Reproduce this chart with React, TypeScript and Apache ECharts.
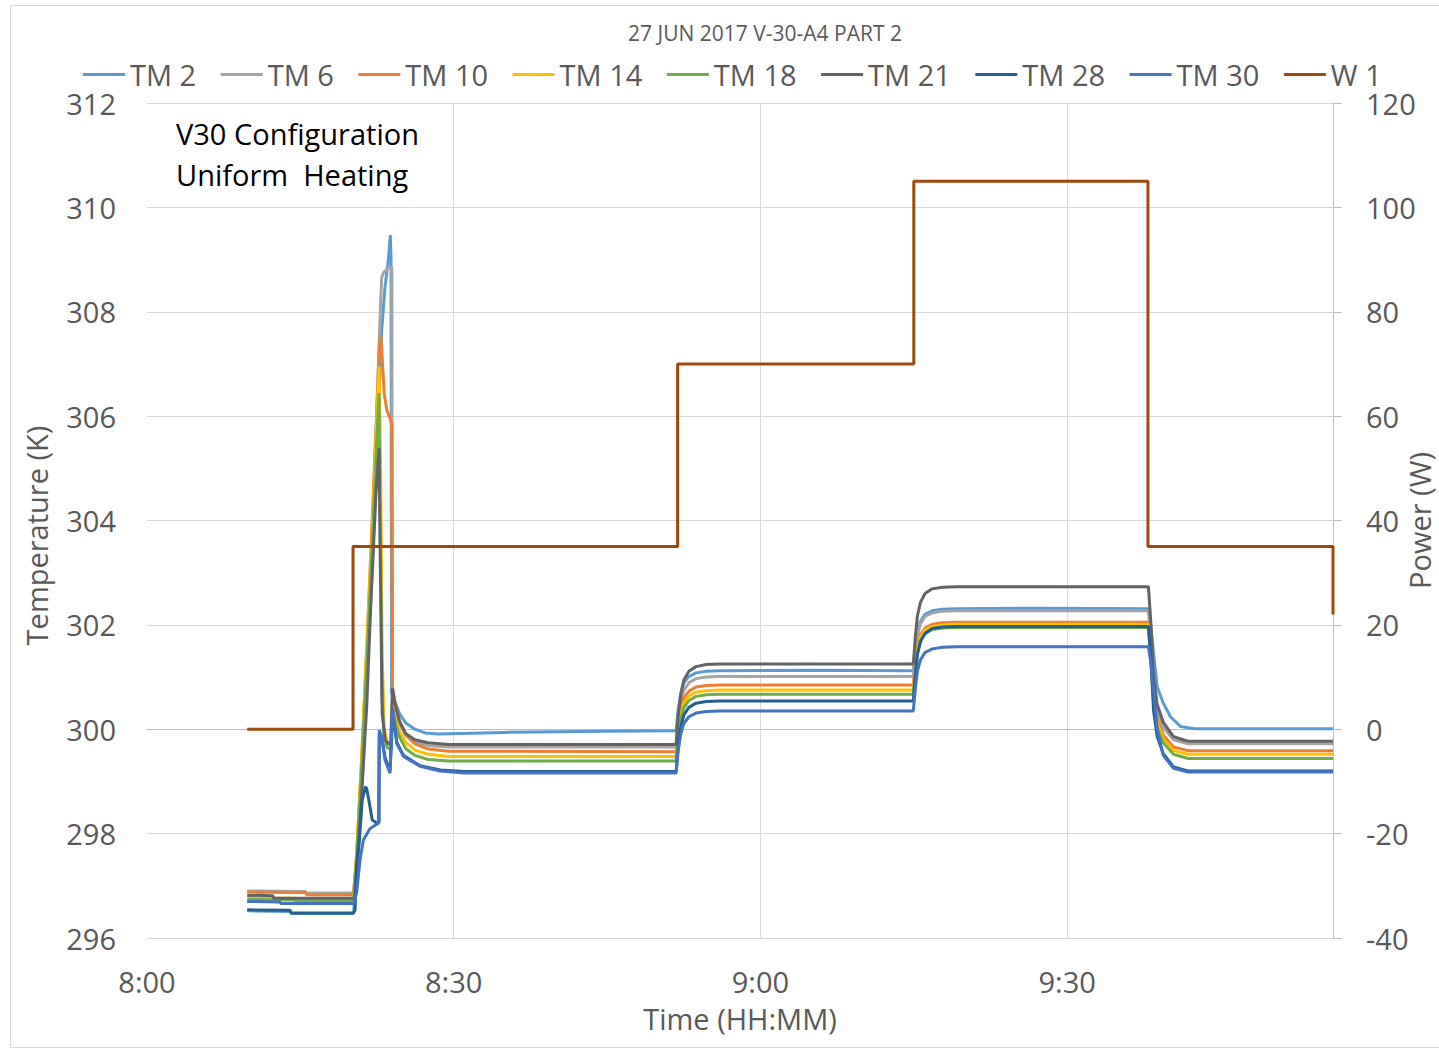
import { useEffect, useRef } from "react";
import * as echarts from "echarts";

const FONT = '"Open Sans", "Liberation Sans", sans-serif';
const TEXT = "#595959";

const chartTitle = "27 JUN 2017 V-30-A4 PART 2";
const seriesNames = ["TM 2", "TM 6", "TM 10", "TM 14", "TM 18", "TM 21", "TM 28", "TM 30", "W 1"];
const seriesColors = ["#5B9BD5", "#A5A5A5", "#ED7D31", "#FFC000", "#70AD47", "#636363", "#255E91", "#4472C4", "#9E480E"];

// time in minutes after 8:00, temperature in K
const tm2: [number, number][] = [
  [9.8, 296.52], [14.0, 296.51], [14.1, 296.47], [20.2, 296.47], [20.5, 297.2], [21.0, 298.9], [21.5, 300.9], [22.0, 303.0],
  [22.4, 304.9], [22.7, 306.4], [22.96, 307.65], [23.28, 308.48], [23.6, 308.99], [23.8, 309.47], [23.87, 309.0], [23.92, 300.72],
  [24.3, 300.5], [24.7, 300.3], [25.3, 300.12], [26.2, 300.0], [27.2, 299.93], [28.5, 299.91], [35, 299.94], [45, 299.96], [51.75, 299.97],
  [51.95, 300.37], [52.2, 300.68], [52.5, 300.89], [53.0, 301.01], [53.7, 301.08], [54.7, 301.11], [56.0, 301.12], [65, 301.13], [74.95, 301.12],
  [75.15, 301.54], [75.35, 301.86], [75.65, 302.07], [76.1, 302.2], [76.8, 302.27], [77.8, 302.3], [79.2, 302.31], [88, 302.32], [97.95, 302.31],
  [98.2, 301.95], [98.45, 301.45], [98.8, 300.82], [99.4, 300.5], [100.1, 300.24], [101.1, 300.05], [102.5, 300.01], [116, 300.01],
];
const tm6: [number, number][] = [
  [9.8, 296.9], [15.5, 296.89], [15.6, 296.86], [20.2, 296.86], [20.5, 297.5], [21.0, 299.2], [21.5, 301.3], [22.0, 303.6],
  [22.4, 305.6], [22.7, 307.4], [22.95, 308.65], [23.1, 308.74], [23.7, 308.86], [23.95, 308.85], [24.0, 300.7],
  [24.3, 300.35], [24.7, 300.1], [25.3, 299.88], [26.2, 299.75], [27.5, 299.69], [29.5, 299.66], [51.75, 299.66],
  [51.95, 300.13], [52.2, 300.5], [52.5, 300.74], [53.0, 300.89], [53.7, 300.97], [54.7, 301.0], [56.0, 301.01], [74.95, 301.01],
  [75.15, 301.45], [75.35, 301.79], [75.65, 302.02], [76.1, 302.16], [76.8, 302.23], [77.8, 302.26], [79.2, 302.27], [97.95, 302.27],
  [98.2, 301.63], [98.45, 300.79], [98.8, 300.33], [99.4, 300.03], [100.4, 299.8], [101.8, 299.72], [116, 299.72],
];
const tm10: [number, number][] = [
  [9.8, 296.88], [15.5, 296.87], [15.6, 296.83], [20.2, 296.83], [20.5, 297.6], [21.0, 299.4], [21.5, 301.6], [22.0, 303.9],
  [22.4, 305.8], [22.7, 307.2], [22.85, 307.55], [22.95, 307.3], [23.2, 306.44], [23.45, 306.12], [23.77, 305.96], [23.95, 305.85], [24.0, 300.82],
  [24.3, 300.45], [24.7, 300.15], [25.3, 299.9], [26.2, 299.72], [27.5, 299.62], [29.5, 299.58], [51.75, 299.57],
  [51.95, 300.02], [52.2, 300.36], [52.5, 300.59], [53.0, 300.73], [53.7, 300.81], [54.7, 300.84], [56.0, 300.85], [74.95, 300.85],
  [75.15, 301.27], [75.35, 301.59], [75.65, 301.81], [76.1, 301.94], [76.8, 302.01], [77.8, 302.04], [79.2, 302.05], [97.95, 302.05],
  [98.2, 301.44], [98.45, 300.62], [98.8, 300.18], [99.4, 299.89], [100.4, 299.66], [101.8, 299.59], [116, 299.59],
];
const tm14: [number, number][] = [
  [9.8, 296.77], [14.5, 296.76], [14.6, 296.72], [20.2, 296.72], [20.5, 297.6], [21.0, 299.5], [21.5, 301.6], [22.0, 303.7],
  [22.4, 305.6], [22.7, 306.95], [22.85, 305.0], [23.0, 301.5], [23.2, 300.0], [23.5, 299.75], [23.85, 299.72], [24.0, 300.5],
  [24.3, 300.2], [24.7, 299.95], [25.3, 299.75], [26.2, 299.6], [27.5, 299.52], [29.5, 299.48], [51.75, 299.48],
  [51.95, 299.92], [52.2, 300.27], [52.5, 300.5], [53.0, 300.64], [53.7, 300.71], [54.7, 300.74], [56.0, 300.75], [74.95, 300.75],
  [75.15, 301.19], [75.35, 301.53], [75.65, 301.76], [76.1, 301.9], [76.8, 301.97], [77.8, 302.0], [79.2, 302.01], [97.95, 302.01],
  [98.2, 301.39], [98.45, 300.57], [98.8, 300.12], [99.4, 299.82], [100.4, 299.59], [101.8, 299.52], [116, 299.52],
];
const tm18: [number, number][] = [
  [9.8, 296.74], [14.5, 296.73], [14.6, 296.71], [20.2, 296.71], [20.5, 297.5], [21.0, 299.3], [21.5, 301.3], [22.0, 303.4],
  [22.4, 305.2], [22.7, 306.44], [22.8, 304.0], [23.0, 300.6], [23.2, 299.85], [23.5, 299.65], [23.85, 299.62], [24.0, 300.4],
  [24.3, 300.1], [24.7, 299.85], [25.3, 299.63], [26.2, 299.5], [27.5, 299.42], [29.5, 299.39], [51.75, 299.39],
  [51.95, 299.84], [52.2, 300.18], [52.5, 300.41], [53.0, 300.55], [53.7, 300.63], [54.7, 300.66], [56.0, 300.67], [74.95, 300.67],
  [75.15, 301.12], [75.35, 301.46], [75.65, 301.69], [76.1, 301.83], [76.8, 301.91], [77.8, 301.94], [79.2, 301.95], [97.95, 301.95],
  [98.2, 301.32], [98.45, 300.49], [98.8, 300.04], [99.4, 299.74], [100.4, 299.52], [101.8, 299.44], [116, 299.44],
];
const tm21: [number, number][] = [
  [9.8, 296.82], [12.3, 296.81], [12.4, 296.76], [20.2, 296.76], [20.35, 296.8], [21.0, 298.75], [21.5, 300.47], [21.82, 302.07],
  [22.38, 304.46], [22.7, 305.39], [22.8, 303.5], [23.0, 300.3], [23.3, 299.8], [23.6, 299.72], [23.85, 299.75], [24.0, 300.79],
  [24.3, 300.45], [24.7, 300.15], [25.3, 299.92], [26.2, 299.8], [27.5, 299.74], [29.5, 299.71], [51.75, 299.71],
  [51.95, 300.25], [52.2, 300.66], [52.5, 300.94], [53.0, 301.11], [53.7, 301.2], [54.7, 301.24], [56.0, 301.25], [74.95, 301.25],
  [75.15, 301.77], [75.35, 302.17], [75.65, 302.43], [76.1, 302.6], [76.8, 302.69], [77.8, 302.72], [79.2, 302.73], [97.95, 302.73],
  [98.2, 301.99], [98.45, 301.01], [98.8, 300.48], [99.4, 300.13], [100.4, 299.86], [101.8, 299.77], [116, 299.77],
];
const tm28: [number, number][] = [
  [9.8, 296.54], [14.0, 296.53], [14.1, 296.48], [20.2, 296.48], [20.35, 296.54], [20.5, 297.4], [20.75, 297.81], [21.05, 298.64],
  [21.37, 298.9], [21.5, 298.85], [21.7, 298.64], [22.03, 298.26], [22.5, 298.2], [22.7, 298.22], [22.72, 299.9], [23.0, 299.8],
  [23.3, 299.45], [23.77, 299.2], [24.04, 300.3], [24.43, 299.75], [25.08, 299.5], [26.7, 299.3], [28.7, 299.22], [31, 299.19], [51.75, 299.19],
  [51.95, 299.66], [52.2, 300.03], [52.5, 300.27], [53.0, 300.42], [53.7, 300.5], [54.7, 300.53], [56.0, 300.54], [74.95, 300.54],
  [75.15, 301.04], [75.35, 301.43], [75.65, 301.68], [76.1, 301.84], [76.8, 301.93], [77.8, 301.96], [79.2, 301.97], [97.95, 301.97],
  [98.2, 301.28], [98.45, 300.36], [98.8, 299.86], [99.4, 299.53], [100.4, 299.28], [101.8, 299.2], [116, 299.2],
];
const tm30: [number, number][] = [
  [9.8, 296.7], [13.0, 296.69], [13.1, 296.66], [20.2, 296.66], [20.5, 296.86], [20.84, 297.5], [21.16, 297.88], [21.82, 298.1],
  [22.63, 298.2], [22.72, 299.98], [22.96, 299.85], [23.28, 299.41], [23.77, 299.16], [23.94, 300.05], [24.04, 300.37], [24.43, 299.73],
  [25.08, 299.48], [26.71, 299.29], [28.66, 299.2], [31, 299.16], [51.75, 299.16],
  [51.95, 299.58], [52.2, 299.9], [52.5, 300.11], [53.0, 300.24], [53.7, 300.31], [54.7, 300.34], [56.0, 300.35], [74.95, 300.35],
  [75.15, 300.78], [75.35, 301.11], [75.65, 301.33], [76.1, 301.47], [76.8, 301.54], [77.8, 301.57], [79.2, 301.58], [97.95, 301.58],
  [98.2, 301.25], [98.45, 300.75], [98.8, 300.0], [99.4, 299.5], [100.4, 299.25], [101.8, 299.18], [116, 299.18],
];
// power in W
const w1: [number, number][] = [
  [9.8, 0], [20.15, 0], [20.15, 35], [51.9, 35], [51.9, 70], [75.0, 70], [75.0, 105], [97.9, 105], [97.9, 35], [116, 35], [116, 22],
];

const temperatureSeries = [tm2, tm6, tm10, tm14, tm18, tm21, tm28, tm30];

function formatTime(v: number): string {
  const h = 8 + Math.floor(v / 60);
  const m = Math.round(v % 60);
  return `${h}:${m < 10 ? "0" + m : m}`;
}

export default function App() {
  const ref = useRef<HTMLDivElement>(null);
  useEffect(() => {
    if (!ref.current) return;
    const chart = echarts.init(ref.current, null, { renderer: "svg" });
    const lineSeries: any[] = temperatureSeries.map((d, i) => ({
      name: seriesNames[i],
      type: "line",
      yAxisIndex: 0,
      data: d,
      symbol: "none",
      color: seriesColors[i],
      lineStyle: { width: 3, color: seriesColors[i] },
    }));
    lineSeries.push({
      name: seriesNames[8],
      type: "line",
      yAxisIndex: 1,
      data: w1,
      symbol: "none",
      color: seriesColors[8],
      lineStyle: { width: 3, color: seriesColors[8] },
    });
    chart.setOption({
      animation: false,
      backgroundColor: "#ffffff",
      textStyle: { fontFamily: FONT },
      title: {
        text: chartTitle,
        left: "center",
        top: 22,
        padding: 0,
        textStyle: { fontFamily: FONT, fontSize: 21, fontWeight: "normal", color: TEXT },
      },
      legend: {
        left: 83,
        top: 60,
        padding: 0,
        itemGap: 24.5,
        itemWidth: 42,
        itemHeight: 3,
        icon: "rect",
        data: seriesNames,
        textStyle: { fontFamily: FONT, fontSize: 29, color: TEXT },
      },
      grid: { left: 147, right: 197, top: 103, bottom: 112, containLabel: false, outerBoundsMode: "none" },
      xAxis: {
        type: "value",
        min: 0,
        max: 116,
        interval: 30,
        name: "Time (HH:MM)",
        nameLocation: "middle",
        nameGap: 66,
        nameTextStyle: { fontFamily: FONT, fontSize: 29, color: TEXT },
        axisLine: { show: true, lineStyle: { color: "#bfbfbf", width: 1 } },
        axisTick: { show: false },
        axisLabel: {
          margin: 29,
          fontFamily: FONT,
          fontSize: 29,
          color: TEXT,
          showMaxLabel: false,
          formatter: (v: number) => formatTime(v),
        },
        splitLine: { show: true, showMinLine: false, showMaxLine: false, lineStyle: { color: "#d9d9d9", width: 1 } },
      },
      yAxis: [
        {
          type: "value",
          position: "left",
          min: 296,
          max: 312,
          interval: 2,
          name: "Temperature (K)",
          nameLocation: "middle",
          nameRotate: 90,
          nameGap: 96,
          nameTextStyle: { fontFamily: FONT, fontSize: 29, color: TEXT, padding: [0, 30, 0, 0] },
          axisLine: { show: false },
          axisTick: { show: false },
          axisLabel: { margin: 31, fontFamily: FONT, fontSize: 29, color: TEXT },
          splitLine: { show: true, lineStyle: { color: "#d9d9d9", width: 1 } },
        },
        {
          type: "value",
          position: "right",
          min: -40,
          max: 120,
          interval: 20,
          name: "Power (W)",
          nameLocation: "middle",
          nameRotate: 90,
          nameGap: 72,
          nameMoveOverlap: false,
          nameTextStyle: { fontFamily: FONT, fontSize: 29, color: TEXT },
          axisLine: { show: true, lineStyle: { color: "#bfbfbf", width: 1 } },
          axisTick: { show: true, length: 9, inside: false, lineStyle: { color: "#bfbfbf" } },
          axisLabel: { margin: 33, fontFamily: FONT, fontSize: 29, color: TEXT },
          splitLine: { show: false },
        },
      ],
      graphic: [
        {
          type: "rect",
          silent: true,
          shape: { x: 10.5, y: 5.5, width: 1510, height: 1042 },
          style: { fill: "none", stroke: "#d9d9d9", lineWidth: 1 },
          z: -10,
        },
        {
          type: "text",
          left: 176,
          top: 113,
          style: {
            text: "V30 Configuration\nUniform  Heating",
            fontFamily: FONT,
            fontSize: 29,
            lineHeight: 41,
            fill: "#000000",
          },
        },
      ],
      series: lineSeries,
    });
    return () => chart.dispose();
  }, []);
  return (
    <div
      style={{
        position: "absolute",
        left: 0,
        top: 0,
        width: 1439,
        height: 1050,
        overflow: "hidden",
        background: "#ffffff",
      }}
    >
      <div ref={ref} style={{ width: 1530, height: 1050 }} />
    </div>
  );
}
